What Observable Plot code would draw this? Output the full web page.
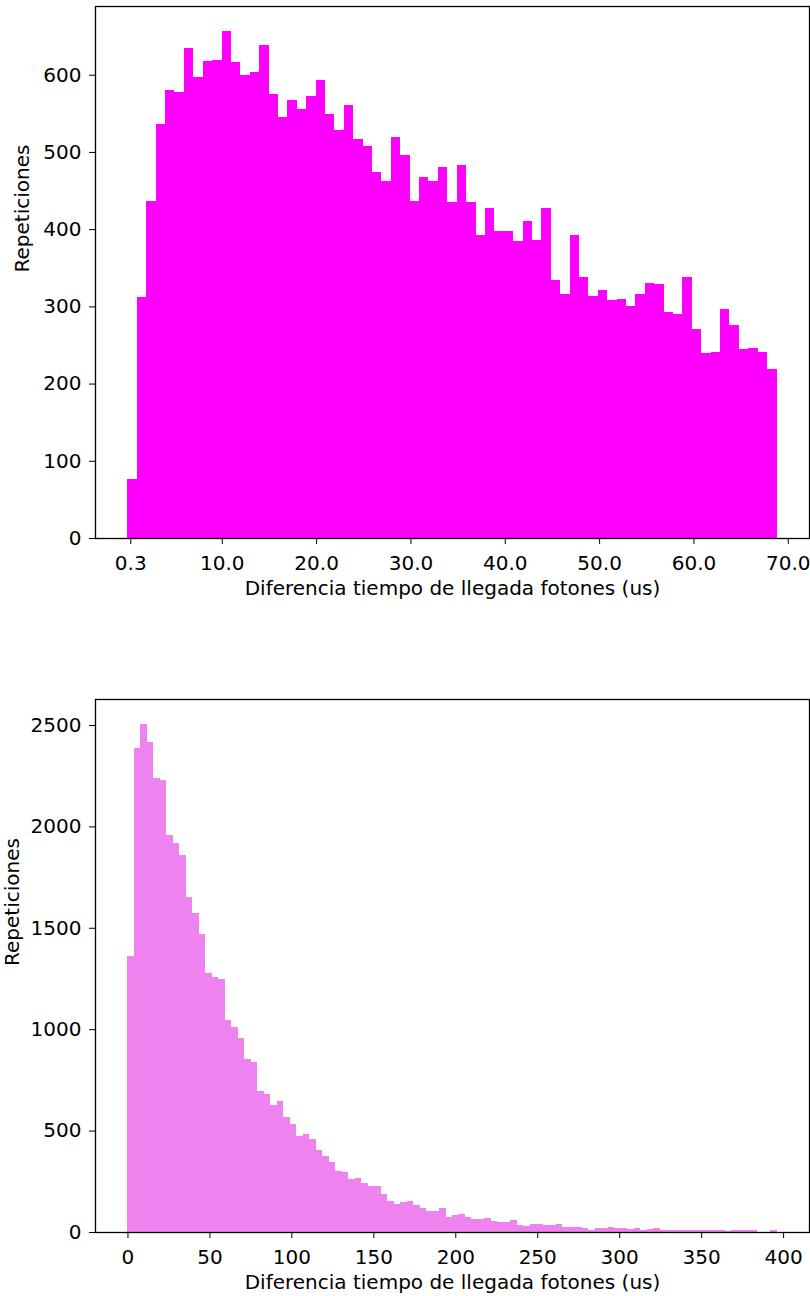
<!DOCTYPE html>
<html><head><meta charset="utf-8">
<script src="https://cdn.jsdelivr.net/npm/d3@7"></script>
<script src="https://cdn.jsdelivr.net/npm/@observablehq/plot@0.6"></script>
<style>
body{margin:0;background:#fff;}
#chart{width:810px;height:1296px;}
#chart svg{display:block;}
</style></head><body><div id="chart"></div>
<script>
const xLabel = "Diferencia tiempo de llegada fotones (us)";
const yLabel = "Repeticiones";

// Top histogram (magenta): 69 bins starting at 0
const counts1 = [77,312,437,536,580,577,634,597,618,619,656,616,599,603,638,575,545,567,555,573,
  593,549,529,561,517,508,474,463,519,496,437,468,463,480,435,483,435,392,427,398,
  398,385,411,386,427,334,316,392,338,314,321,308,310,301,316,330,329,293,290,338,
  271,239,241,297,276,245,246,241,219];
const binStart1 = 0;
const binWidth1 = 0.9972;
const xTicks1 = [0.3,10,20,30,40,50,60,70];
const yTicks1 = [0,100,200,300,400,500,600];

// Bottom histogram (violet): 100 bins starting at 0
const counts2 = [1359,2388,2507,2415,2238,2231,1959,1917,1858,1652,1572,1467,1276,1256,1248,1047,1012,955,855,837,
  694,680,624,644,567,531,474,482,459,403,373,345,303,294,261,267,240,225,225,189,
  151,139,146,151,132,118,102,102,118,76,82,88,75,63,63,69,54,48,48,61,
  35,31,37,37,34,34,40,27,27,26,21,12,18,20,26,18,18,13,18,10,
  13,20,10,10,10,10,8,8,8,8,8,8,5,10,10,10,10,0,0,10];
const binStart2 = 0;
const binWidth2 = 3.96;
const xTicks2 = [0,50,100,150,200,250,300,350,400];
const yTicks2 = [0,500,1000,1500,2000,2500];

function bins(counts, start, width) {
  return counts.map((c, i) => ({x1: start + i * width, x2: start + (i + 1) * width, y: c}));
}

function hist({data, color, xDomain, yDomain, xTicks, yTicks, xFormat, marginTop, marginBottom, yLabelDx}) {
  return Plot.plot({
    width: 810, height: 648,
    marginLeft: 95, marginRight: 1, marginTop, marginBottom,
    style: {fontFamily: "DejaVu Sans", fontSize: "20px", color: "#000", background: "#fff"},
    x: {domain: xDomain},
    y: {domain: yDomain},
    marks: [
      Plot.rectY(data, {x1: "x1", x2: "x2", y: "y", fill: color, inset: 0, shapeRendering: "crispEdges"}),
      Plot.axisX({ticks: xTicks, tickFormat: xFormat, tickSize: 6, tickPadding: 11, label: null, fontSize: 20}),
      Plot.axisY({ticks: yTicks, tickFormat: d => String(d), tickSize: 6, tickPadding: 8, label: null, fontSize: 20}),
      Plot.frame({stroke: "#000", strokeWidth: 1.3}),
      Plot.text([xLabel], {frameAnchor: "bottom", dy: 50, text: d => d, lineAnchor: "middle", fill: "#000", fontSize: 20}),
      Plot.text([yLabel], {frameAnchor: "left", dx: yLabelDx, rotate: -90, text: d => d, lineAnchor: "middle", fill: "#000", fontSize: 20})
    ]
  });
}

const el = document.getElementById("chart");
el.append(hist({
  data: bins(counts1, binStart1, binWidth1), color: "#ff00ff",
  xDomain: [-3.44, 72.25], yDomain: [0, 689],
  xTicks: xTicks1, yTicks: yTicks1, xFormat: d => d.toFixed(1),
  marginTop: 6, marginBottom: 110, yLabelDx: -73
}));
el.append(hist({
  data: bins(counts2, binStart2, binWidth2), color: "#ee82ee",
  xDomain: [-19.8, 415.8], yDomain: [0, 2628],
  xTicks: xTicks2, yTicks: yTicks2, xFormat: d => String(d),
  marginTop: 51, marginBottom: 64, yLabelDx: -83
}));
</script></body></html>
